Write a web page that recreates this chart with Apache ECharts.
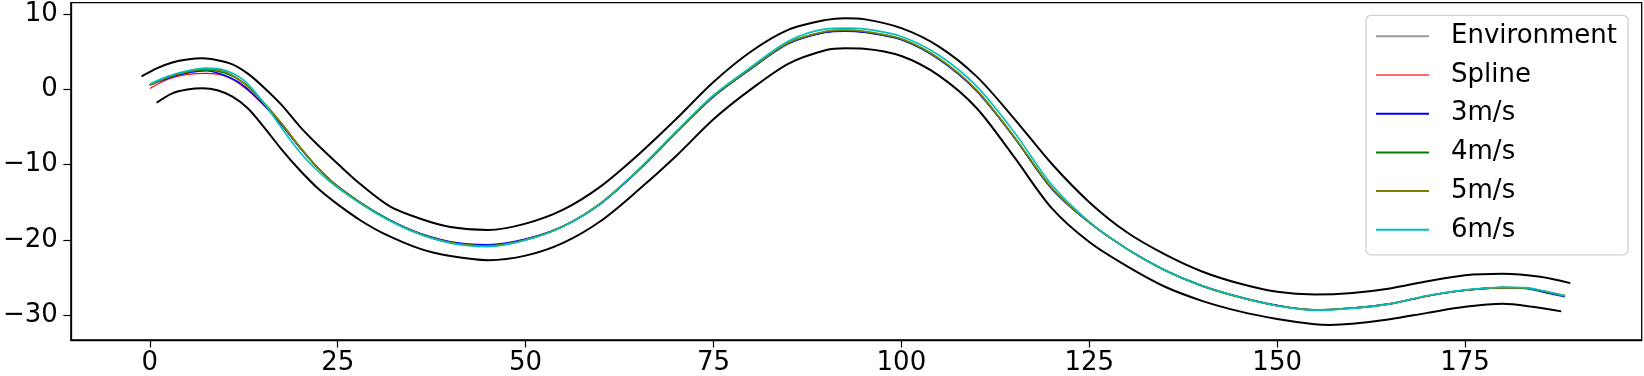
<!DOCTYPE html>
<html>
<head>
<meta charset="utf-8">
<script src="https://cdn.jsdelivr.net/npm/echarts@6/dist/echarts.min.js"></script>
<style>
html,body{margin:0;padding:0;background:#fff;}
#chart{width:1644px;height:376px;}
</style>
</head>
<body>
<div id="chart"></div>
<script>
// ---- data ----
const xTicks = [0, 25, 50, 75, 100, 125, 150, 175];
const yTicks = [-30, -20, -10, 0, 10];

const upperX = [-1.1,1,3,5,7,9,11,13,15,17.5,20,22.5,25,28,32,36,40,45,50,55,60,65,70,75,80,85,90,92.5,95,100,105,110,115,120,125,130,135,140,145,150,155,160,165,170,175,180,185,189];
const upperY = [1.7,2.8,3.55,3.95,4.1,3.85,3.3,2.1,0.4,-2.05,-5.0,-7.55,-9.9,-12.6,-15.6,-17.2,-18.3,-18.7,-17.85,-16.0,-12.9,-8.7,-4.0,0.95,5.0,7.9,9.2,9.42,9.3,8.1,5.66,1.7,-3.9,-9.9,-15.0,-19.0,-21.9,-24.2,-25.8,-26.9,-27.25,-27.05,-26.45,-25.5,-24.7,-24.5,-24.9,-25.75];

const lowerX = [0.9,3,5,7,9,11,13,15,17.5,20,22.5,25,28,31,36,40,45,50,55,60,65,70,75,80,85,90,92.5,95,100,105,110,115,120,125,130,135,140,145,150,155,157,160,165,170,175,180,184,187.8];
const lowerY = [-1.8,-0.55,-0.05,0.12,-0.15,-1.0,-2.5,-4.8,-7.95,-10.8,-13.3,-15.3,-17.4,-19.1,-21.2,-22.15,-22.7,-22.1,-20.4,-17.5,-13.4,-8.9,-4.0,0.0,3.4,5.2,5.44,5.38,4.4,1.8,-2.5,-9.0,-15.8,-20.3,-23.5,-26.2,-28.1,-29.5,-30.5,-31.2,-31.3,-31.15,-30.55,-29.7,-28.9,-28.5,-28.9,-29.5];

const trackX = [0,2.5,5,7.5,10,12.5,15,17.5,20,22.5,25,30,35,40,45,50,55,60,65,70,75,80,85,90,92.5,95,100,105,110,115,120,125,130,135,140,145,150,155,160,165,170,175,180,183,185.5,188.3];
const splineY = [0.1,1.35,1.95,2.1,1.75,0.3,-1.95,-4.7,-7.8,-10.6,-12.9,-16.3,-18.8,-20.3,-20.75,-19.95,-18.2,-15.2,-10.8,-5.8,-1.0,2.7,6.1,7.6,7.75,7.6,6.6,4.0,-0.2,-6.4,-13.2,-17.7,-21.2,-24.0,-26.1,-27.6,-28.7,-29.3,-29.05,-28.5,-27.45,-26.7,-26.35,-26.4,-26.85,-27.5];
const v3Y = [0.55,1.5,2.15,2.45,1.8,0.45,-1.9,-4.7,-7.8,-10.6,-12.9,-16.3,-18.8,-20.25,-20.65,-19.9,-18.2,-15.2,-10.8,-5.8,-1.0,2.7,6.05,7.55,7.7,7.55,6.55,3.95,-0.25,-6.4,-13.2,-17.7,-21.2,-24.0,-26.1,-27.6,-28.7,-29.3,-29.05,-28.5,-27.45,-26.7,-26.35,-26.45,-26.95,-27.55];
const v4Y = [0.55,1.6,2.3,2.55,2.15,0.85,-1.6,-4.5,-7.7,-10.6,-12.9,-16.3,-18.85,-20.35,-20.8,-20.0,-18.2,-15.15,-10.75,-5.75,-0.95,2.75,6.15,7.65,7.8,7.65,6.65,4.05,-0.15,-6.35,-13.15,-17.7,-21.2,-24.0,-26.1,-27.6,-28.75,-29.3,-29.05,-28.5,-27.45,-26.7,-26.35,-26.4,-26.85,-27.45];
const v5Y = [0.55,1.6,2.35,2.7,2.3,0.8,-1.65,-4.55,-7.75,-10.6,-12.95,-16.35,-18.85,-20.35,-20.8,-20.0,-18.2,-15.1,-10.7,-5.7,-0.9,2.8,6.2,7.7,7.85,7.7,6.7,4.1,-0.1,-6.3,-13.1,-17.7,-21.2,-24.05,-26.15,-27.65,-28.75,-29.3,-29.05,-28.5,-27.45,-26.7,-26.35,-26.4,-26.8,-27.4];
const v6Y = [0.7,1.75,2.45,2.8,2.5,1.2,-1.6,-5.1,-8.4,-11.0,-13.1,-16.4,-18.9,-20.45,-20.9,-20.05,-18.25,-15.2,-10.7,-5.65,-0.8,2.95,6.4,8.0,8.1,8.0,7.0,4.5,0.4,-5.7,-12.7,-17.6,-21.2,-24.0,-26.1,-27.6,-28.75,-29.35,-29.1,-28.5,-27.4,-26.65,-26.3,-26.35,-26.8,-27.45];

const legendNames = ['Environment', 'Spline', '3m/s', '4m/s', '5m/s', '6m/s'];
// ---------------------------------------

const zip = (xs, ys) => xs.map((x, i) => [x, ys[i]]);
const FONT = 'DejaVu Sans';

function line(name, xs, ys, color, width, z) {
  return {
    name: name, type: 'line', data: zip(xs, ys),
    smooth: 0.3, symbol: 'none', showSymbol: false,
    lineStyle: { color: color, width: width }, itemStyle: { color: color },
    z: z, silent: true
  };
}

const axisCommon = (ticks, margin) => ({
  type: 'value',
  splitLine: { show: false },
  axisLine: { show: true, onZero: false, lineStyle: { color: '#000', width: 1.3 } },
  axisTick: { show: true, inside: false, length: 7.5, lineStyle: { color: '#000', width: 1.2 }, customValues: ticks },
  axisLabel: { customValues: ticks, margin: margin, color: '#000', fontSize: 26, fontFamily: FONT,
    formatter: v => String(v).replace('-', '\u2212') }
});

const chart = echarts.init(document.getElementById('chart'), null, { renderer: 'canvas' });
chart.setOption({
  animation: false,
  backgroundColor: '#fff',
  grid: {
    left: 67.7, right: 2.3, top: 2.7, bottom: 36,
    show: true, borderColor: '#000', borderWidth: 1.3, backgroundColor: 'transparent'
  },
  xAxis: Object.assign(axisCommon(xTicks, 10), { min: -10.5, max: 198.5 }),
  yAxis: Object.assign(axisCommon(yTicks, 13), { min: -33.3, max: 11.48 }),
  legend: {
    orient: 'vertical', left: 1366, top: 15.3,
    padding: [6, 11, 10, 10],
    backgroundColor: 'rgba(255,255,255,0.85)',
    borderColor: '#d0d0d0', borderWidth: 1.3, borderRadius: 5,
    icon: 'rect', itemWidth: 53, itemHeight: 2, itemGap: 8.7,
    selectedMode: false,
    textStyle: { color: '#000', fontSize: 26, fontFamily: FONT, lineHeight: 30, padding: [0, 0, 0, 17] },
    data: [
      { name: 'Environment', itemStyle: { color: '#9a9a9a' } },
      { name: 'Spline', itemStyle: { color: '#ff6a6a' } },
      { name: '3m/s', itemStyle: { color: '#0000ff' } },
      { name: '4m/s', itemStyle: { color: '#008000' } },
      { name: '5m/s', itemStyle: { color: '#808000' } },
      { name: '6m/s', itemStyle: { color: '#00bfbf' } }
    ]
  },
  series: [
    line(legendNames[0], upperX, upperY, '#000000', 2, 2),
    line(legendNames[0], lowerX, lowerY, '#000000', 2, 2),
    line(legendNames[1], trackX, splineY, '#ff0000', 1.2, 3),
    line(legendNames[2], trackX, v3Y, '#0000ff', 1.6, 4),
    line(legendNames[3], trackX, v4Y, '#008000', 1.6, 5),
    line(legendNames[4], trackX, v5Y, '#808000', 1.6, 6),
    line(legendNames[5], trackX, v6Y, '#00bfbf', 1.6, 7)
  ]
});
</script>
</body>
</html>
